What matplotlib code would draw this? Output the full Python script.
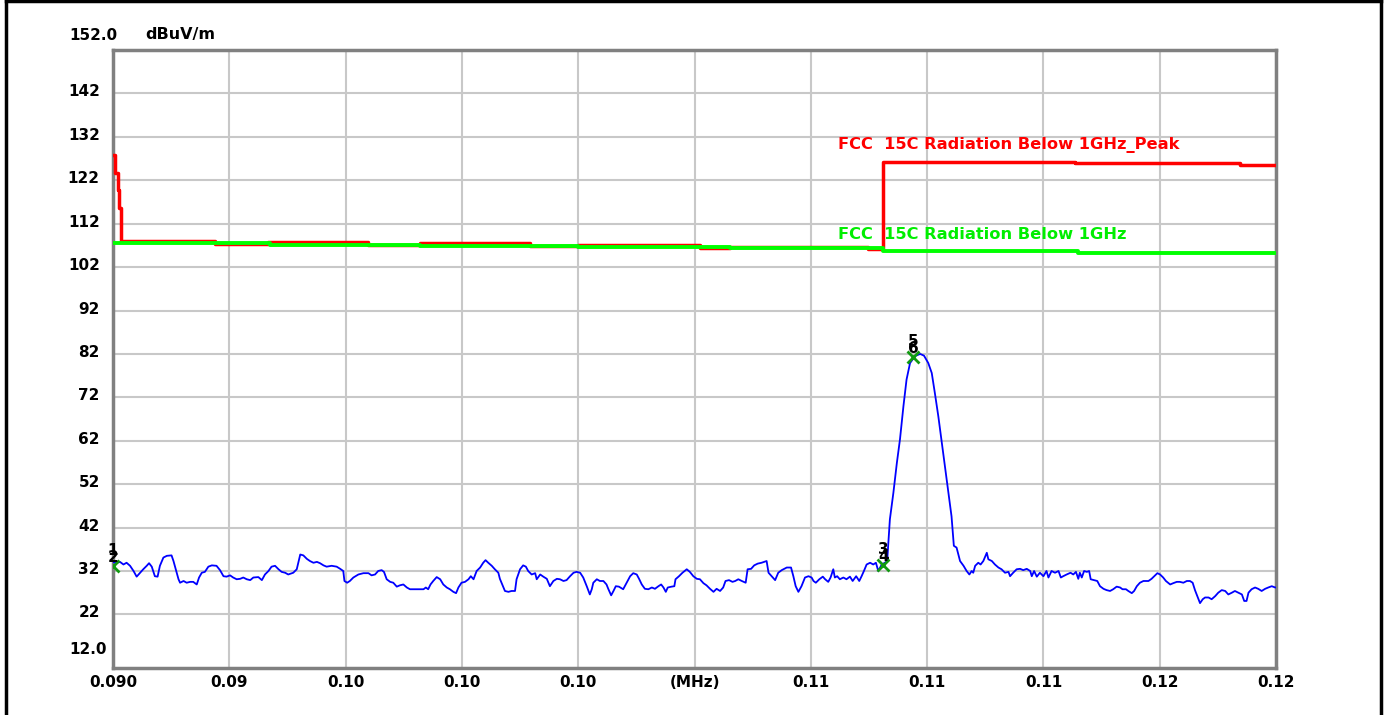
import numpy as np
import matplotlib
matplotlib.use("Agg")
import matplotlib.pyplot as plt
from matplotlib.lines import Line2D
from matplotlib.transforms import ScaledTranslation

# ---------------- data ----------------
# measured trace (frequency in kHz, level in dBuV/m)
trace_khz = [
    90.00, 90.10, 90.18, 90.27, 90.35, 90.44, 90.53, 90.61, 90.70, 90.78,
    90.87, 90.93, 91.00, 91.08, 91.15, 91.21, 91.30, 91.39, 91.51, 91.56,
    91.62, 91.69, 91.73, 91.82, 91.90, 91.99, 92.07, 92.16, 92.22, 92.29,
    92.37, 92.46, 92.55, 92.67, 92.76, 92.85, 92.93, 93.02, 93.10, 93.19,
    93.28, 93.36, 93.45, 93.54, 93.62, 93.75, 93.84, 93.92, 94.01, 94.09,
    94.18, 94.27, 94.35, 94.44, 94.52, 94.65, 94.74, 94.78, 94.83, 94.91,
    95.00, 95.08, 95.17, 95.26, 95.34, 95.43, 95.51, 95.64, 95.77, 95.86,
    95.94, 95.97,
    96.04, 96.11, 96.20, 96.33, 96.46, 96.59, 96.67, 96.76, 96.84, 96.93,
    96.99, 97.06, 97.15, 97.23, 97.32, 97.40, 97.49, 97.58, 97.66, 97.83,
    98.01, 98.07, 98.13, 98.19, 98.26, 98.35, 98.44, 98.52, 98.61, 98.69,
    98.78, 98.85, 98.91, 98.99, 99.08, 99.17, 99.23, 99.30, 99.38, 99.47,
    99.55, 99.61, 99.68, 99.77, 99.85, 99.94, 99.98, 100.04, 100.11, 100.20,
    100.28, 100.37, 100.41, 100.50, 100.58, 100.65, 100.71, 100.80, 100.89, 100.93,
    101.02, 101.10, 101.19, 101.27, 101.36, 101.45, 101.53, 101.62, 101.70, 101.79,
    101.88, 101.96,
    102.05, 102.13, 102.22, 102.30, 102.35, 102.39, 102.48, 102.56, 102.65, 102.73,
    102.78, 102.85, 102.91, 102.97, 103.05, 103.16, 103.25, 103.34, 103.42, 103.51,
    103.57, 103.64, 103.72, 103.81, 103.90, 103.98, 104.07, 104.14, 104.20, 104.26,
    104.31, 104.41, 104.48, 104.51, 104.60, 104.69, 104.80, 104.88, 104.97, 105.06,
    105.14, 105.23, 105.31, 105.40, 105.49, 105.57, 105.66, 105.74, 105.80, 105.89,
    105.98, 106.05, 106.13, 106.22, 106.32, 106.37, 106.46, 106.54, 106.63, 106.73,
    106.86, 106.91, 106.99, 107.08, 107.16, 107.25, 107.38, 107.49, 107.55, 107.61,
    107.68, 107.76, 107.85, 107.94, 108.02,
    108.07, 108.13, 108.22, 108.31, 108.37, 108.45, 108.51, 108.58, 108.62, 108.68,
    108.75, 108.84, 108.92, 109.01, 109.08, 109.17, 109.25, 109.31, 109.37, 109.44,
    109.53, 109.61, 109.68, 109.74, 109.83, 109.91, 109.97,
    110.04, 110.13, 110.22, 110.30, 110.39, 110.47, 110.56, 110.69, 110.82, 110.92,
    111.03, 111.12, 111.20, 111.29, 111.38, 111.46, 111.55, 111.63,
    111.69, 111.76, 111.85, 111.94, 112.02, 112.09, 112.15, 112.19, 112.24, 112.32,
    112.38, 112.45, 112.54, 112.58, 112.67, 112.75, 112.84, 112.92, 113.01, 113.10,
    113.14, 113.22, 113.31, 113.40, 113.48, 113.57, 113.66, 113.70, 113.76, 113.83,
    113.91, 114.00, 114.08,
    114.13, 114.21, 114.30, 114.39, 114.45, 114.51, 114.60, 114.70, 114.77, 114.84,
    114.90, 114.94, 114.99, 115.05, 115.12, 115.18, 115.22, 115.31, 115.39, 115.46,
    115.55, 115.63, 115.72, 115.80, 115.89, 115.98, 116.04, 116.13, 116.19, 116.28,
    116.34, 116.41, 116.49, 116.58, 116.71, 116.79, 116.88, 116.94, 117.01, 117.09,
    117.16, 117.27, 117.35, 117.44, 117.52, 117.61, 117.70, 117.78, 117.85, 117.91,
    117.97, 118.04, 118.11, 118.17, 118.26, 118.34, 118.43, 118.51, 118.60, 118.69,
    118.77, 118.86, 118.94, 119.03, 119.12, 119.18, 119.24, 119.29, 119.37, 119.46,
    119.54, 119.63, 119.72, 119.80, 119.89, 119.98, 120.00,
]
trace_dbuv = [
    34.0, 33.9, 34.1, 33.5, 33.9, 33.2, 32.0, 30.7, 31.6, 32.4,
    33.2, 33.8, 33.0, 30.8, 30.7, 33.2, 35.1, 35.5, 35.6, 34.3,
    32.4, 30.1, 29.3, 29.7, 29.3, 29.5, 29.5, 28.9, 30.5, 31.6,
    31.8, 33.0, 33.3, 33.2, 32.2, 30.8, 30.7, 31.0, 30.5, 30.1,
    30.2, 30.5, 30.1, 29.9, 30.5, 30.6, 29.9, 31.2, 32.0, 33.0,
    33.2, 32.4, 31.8, 31.6, 31.2, 31.6, 32.4, 33.9, 35.8, 35.6,
    34.8, 34.3, 33.9, 34.1, 33.8, 33.3, 33.0, 33.2, 33.0, 32.5,
    32.0, 29.7,
    29.3, 29.7, 30.5, 31.2, 31.5, 31.5, 31.0, 31.2, 32.0, 32.2,
    31.8, 30.1, 29.5, 29.3, 28.4, 28.7, 28.9, 28.2, 27.8, 27.8,
    27.8, 28.2, 27.8, 28.9, 29.7, 30.6, 30.1, 28.9, 28.2, 27.8,
    27.2, 26.9, 28.2, 29.3, 29.5, 30.1, 30.8, 30.1, 32.0, 32.8,
    33.9, 34.5, 33.9, 33.2, 32.4, 31.6, 30.2, 28.9, 27.4, 27.2,
    27.4, 27.4, 30.1, 32.4, 33.3, 33.0, 32.0, 31.2, 31.5, 30.1,
    31.2, 30.7, 30.2, 28.5, 29.7, 30.2, 30.1, 29.7, 29.9, 30.8,
    31.6, 31.8,
    31.6, 30.5, 28.5, 26.6, 27.8, 29.3, 30.1, 29.7, 29.7, 28.9,
    27.8, 26.4, 27.4, 28.5, 28.4, 27.8, 29.3, 30.8, 31.5, 31.2,
    30.2, 28.9, 27.9, 27.8, 28.2, 27.9, 28.5, 28.9, 28.2, 27.2,
    28.2, 28.4, 28.5, 30.1, 30.8, 31.6, 32.4, 31.8, 30.8, 30.2,
    30.1, 29.2, 28.7, 27.9, 27.2, 27.9, 27.4, 28.2, 29.7, 29.9,
    29.5, 29.7, 30.1, 29.7, 29.3, 32.4, 32.5, 33.3, 33.7, 33.9,
    34.3, 31.6, 30.8, 29.9, 31.6, 32.2, 32.8, 32.8, 30.8, 28.5,
    27.2, 28.5, 30.5, 30.8, 30.5,
    29.7, 29.3, 30.1, 30.7, 30.1, 29.5, 30.5, 32.4, 30.5, 30.8,
    30.1, 30.5, 30.1, 30.7, 29.7, 30.8, 29.7, 30.8, 32.0, 33.5,
    33.9, 33.5, 33.9, 32.0, 33.5, 33.9, 34.3,
    43.9, 50.0, 56.9, 62.3, 70.0, 76.1, 79.9, 81.5, 82.0, 81.6,
    79.9, 77.6, 73.0, 67.6, 61.5, 56.1, 50.0, 44.6,
    37.8, 37.4, 34.3, 33.2, 32.0, 31.2, 32.0, 31.6, 33.2, 33.9,
    33.5, 34.3, 36.2, 34.7, 34.3, 33.5, 32.8, 32.4, 31.6, 31.8,
    30.8, 31.6, 32.4, 32.5, 32.2, 32.5, 32.0, 30.8, 32.0, 30.7,
    31.6, 30.8, 32.0,
    30.5, 32.0, 31.6, 32.0, 30.5, 30.8, 31.2, 31.6, 31.2, 31.8,
    30.2, 31.6, 30.5, 32.0, 31.8, 32.0, 30.1, 29.9, 29.7, 28.5,
    27.9, 27.6, 27.4, 27.8, 28.4, 28.2, 27.8, 27.8, 27.4, 26.9,
    27.4, 28.5, 29.3, 29.7, 29.7, 30.2, 31.0, 31.5, 31.2, 30.5,
    29.7, 28.9, 29.2, 29.5, 29.5, 29.3, 29.7, 29.7, 29.3, 27.6,
    26.2, 24.6, 25.5, 25.9, 25.9, 25.5, 26.2, 27.0, 27.6, 27.4,
    26.6, 27.0, 27.4, 27.0, 26.6, 25.1, 25.1, 27.0, 27.8, 28.2,
    27.9, 27.4, 27.9, 28.2, 28.5, 28.2, 28.2,
]

# limit lines (step edges, kHz / dBuV/m)
limit_avg_khz = [90.00, 94.05, 97.92, 101.99, 105.92, 109.87, 114.89, 120.00]
limit_avg_lvl = [107.5, 107.2, 106.9, 106.6, 106.3, 105.7, 105.3, 105.3]
limit_pk_khz = [90.00, 90.05, 90.12, 90.16, 90.21, 92.63, 94.00, 96.58, 97.92,
                100.76, 101.99, 105.14, 105.92, 109.48, 109.87, 114.81, 119.07, 120.00]
limit_pk_lvl = [127.8, 123.6, 119.8, 115.5, 108.1, 107.4, 107.8, 107.1, 107.5,
                106.8, 107.2, 106.5, 106.7, 106.2, 126.3, 125.9, 125.5, 125.5]
limit_pk_name = "FCC  15C Radiation Below 1GHz_Peak"
limit_avg_name = "FCC  15C Radiation Below 1GHz"

# markers
marker_khz = [90.00, 109.87, 110.64]
marker_lvl = [33.2, 33.4, 81.4]
marker_labels = [("1", "2"), ("3", "4"), ("5", "6")]

# axes
x_tick_mhz = [0.090, 0.093, 0.096, 0.099, 0.102, 0.105, 0.108, 0.111, 0.114, 0.117, 0.120]
x_tick_labels = ["0.090", "0.09", "0.10", "0.10", "0.10", "(MHz)",
                 "0.11", "0.11", "0.11", "0.12", "0.12"]
y_ticks = [142, 132, 122, 112, 102, 92, 82, 72, 62, 52, 42, 32, 22]
y_top_label = "152.0"
y_bottom_label = "12.0"
y_unit = "dBuV/m"

# ---------------- figure ----------------
W, H = 1387, 715
plt.rcParams["font.family"] = ["DejaVu Sans"]
plt.rcParams["font.weight"] = "bold"
fig = plt.figure(figsize=(W / 100, H / 100), dpi=100)
fig.patch.set_facecolor("white")
ax = fig.add_axes([113 / W, 1 - 668 / H, (1276 - 113) / W, (668 - 50) / H])
ax.set_xlim(0.090, 0.120)
ax.set_ylim(9.66, 152)

ax.set_xticks(x_tick_mhz)
ax.set_xticklabels(x_tick_labels)
ax.set_yticks(y_ticks)
ax.set_yticklabels([str(v) for v in y_ticks])
ax.tick_params(axis="both", length=0, labelsize=11, colors="black")
ax.tick_params(axis="x", pad=5)
ax.tick_params(axis="y", pad=9.5)
for lbl in ax.get_yticklabels():
    lbl.set_transform(lbl.get_transform() + ScaledTranslation(0, 3 / 100, fig.dpi_scale_trans))
    lbl.set_fontweight("bold")
for lbl in ax.get_xticklabels():
    lbl.set_fontweight("bold")

ax.grid(True, color="#c8c8c8", lw=1.5)
ax.set_axisbelow(True)
for s in ax.spines.values():
    s.set_color("#808080")
    s.set_linewidth(2.5)

fmhz = lambda a: np.asarray(a) / 1000.0

ax.plot(fmhz(limit_pk_khz), limit_pk_lvl, color="#ff0000", lw=2.5, drawstyle="steps-post", zorder=3)
ax.plot(fmhz(limit_avg_khz), limit_avg_lvl, color="#00ff00", lw=2.8, drawstyle="steps-post", zorder=4)
ax.plot(fmhz(trace_khz), trace_dbuv, color="#0000ff", lw=1.3, zorder=5)

ax.plot(fmhz(marker_khz), marker_lvl, linestyle="none", marker="x", color="#109a10",
        ms=8, mew=2, zorder=6)
for f, v, (a, b) in zip(marker_khz, marker_lvl, marker_labels):
    ax.annotate(a, (f / 1000, v), xytext=(0, 11), textcoords="offset points",
                ha="center", va="center", fontsize=11, fontweight="bold", color="black", zorder=7)
    ax.annotate(b, (f / 1000, v), xytext=(0, 6), textcoords="offset points",
                ha="center", va="center", fontsize=11, fontweight="bold", color="black", zorder=7)

ax.text(0.10870, 130.1, limit_pk_name, color="#ff0000", fontsize=11.7, fontweight="bold",
        ha="left", va="center")
ax.text(0.10870, 109.6, limit_avg_name, color="#00ee00", fontsize=11.7, fontweight="bold",
        ha="left", va="center")

fig.text(117 / W, 1 - 35 / H, y_top_label, ha="right", va="center", fontsize=11, fontweight="bold")
fig.text(107 / W, 1 - 650 / H, y_bottom_label, ha="right", va="center", fontsize=11, fontweight="bold")
fig.text(145 / W, 1 - 34 / H, y_unit, ha="left", va="center", fontsize=11.5, fontweight="bold")

# outer frame
for xs, ys in [([6 / W, 6 / W], [0, 1]), ([6 / W, 1381 / W], [1 - 1 / H, 1 - 1 / H]),
               ([1381 / W, 1381 / W], [0, 1])]:
    fig.add_artist(Line2D(xs, ys, color="black", lw=2.5, transform=fig.transFigure))

fig.savefig("out.png", dpi=100, facecolor="white")
